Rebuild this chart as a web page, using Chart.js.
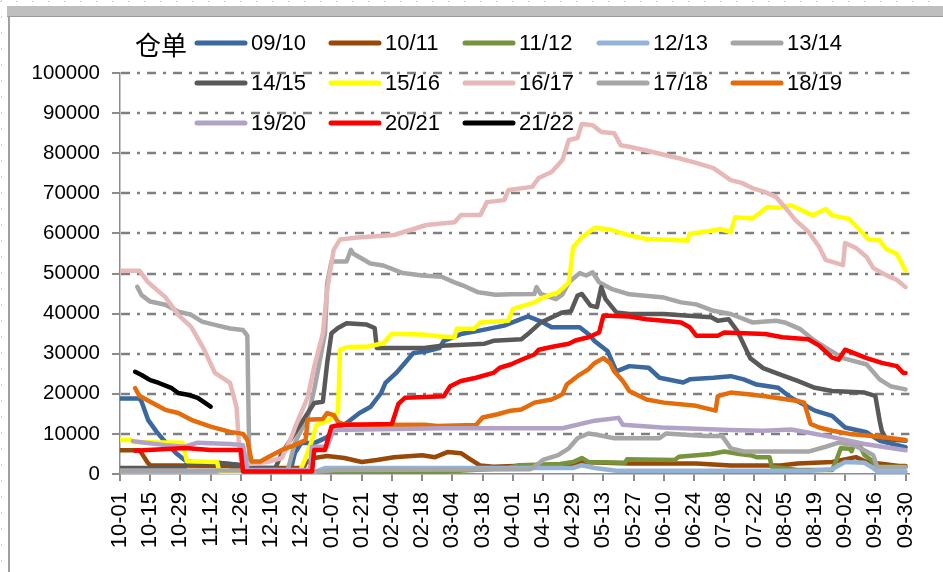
<!DOCTYPE html>
<html>
<head>
<meta charset="utf-8">
<title>仓单</title>
<script src="https://cdn.jsdelivr.net/npm/chart.js@4.4.0/dist/chart.umd.min.js"></script>
<style>
  html, body { margin: 0; padding: 0; background: #fff; }
  #sheet { position: relative; width: 943px; height: 572px; overflow: hidden; background: #fff; }
  .dots-top { position: absolute; left: 0; top: 1px; width: 943px; height: 1px;
    background: repeating-linear-gradient(to right, #cfcfcf 0 2px, transparent 2px 16px); }
  .dots-left { position: absolute; left: 1px; top: 0; width: 1px; height: 572px;
    background: repeating-linear-gradient(to bottom, #cfcfcf 0 2px, transparent 2px 16px); }
  .titlebar { position: absolute; left: 7px; top: 6px; right: 0; height: 10px;
    background: #bfbfbf; border-bottom: 1px solid #9a9a9a; }
  .frame-left { position: absolute; left: 8px; top: 17px; width: 2px; bottom: 0; background: #a0a0a0; }
  #chartBox { position: absolute; left: 0; top: 0; width: 943px; height: 572px; }
</style>
</head>
<body>
<div id="sheet">
  <div class="dots-top"></div>
  <div class="dots-left"></div>
  <div class="titlebar"></div>
  <div class="frame-left"></div>
  <div id="chartBox"><canvas id="receiptChart"></canvas></div>
</div>
<script>
// Warehouse receipts per season, day 0 = 10-01 ... day 364 = 09-30

const LEGEND_TITLE = '仓单';
const DAY_STEP = 14;

const tickLabels = ['10-01', '10-15', '10-29', '11-12', '11-26', '12-10', '12-24',
    '01-07', '01-21', '02-04', '02-18', '03-04', '03-18', '04-01', '04-15', '04-29',
    '05-13', '05-27', '06-10', '06-24', '07-08', '07-22', '08-05', '08-19', '09-02',
    '09-16', '09-30'];

const yTicks = [0, 10000, 20000, 30000, 40000, 50000, 60000, 70000, 80000, 90000, 100000];

const seasonLabels = ['09/10', '10/11', '11/12', '12/13', '13/14', '14/15', '15/16',
    '16/17', '17/18', '18/19', '19/20', '20/21', '21/22'];

const seasonColors = ['#3a689f', '#984807', '#77933c', '#95b3d7', '#a6a6a6', '#595959',
    '#ffff00', '#e6b9b8', '#a6a6a6', '#e46c0a', '#b3a2c7', '#ff0000', '#000000'];

// [day, receipts]
const s0910 = [[0,18800],[9,18800],[10,18000],[13,13500],[17,10500],[21,8000],[26,5200],[30,3500],
    [33,3000],[45,2800],[55,2300],[57,800],[79,800],[81,5200],[84,7700],[90,7700],[96,9200],
    [99,11000],[105,12700],[111,15200],[116,16700],[121,20200],[123,22700],[128,25200],[132,27700],
    [136,30200],[141,30500],[148,31400],[150,33200],[158,34900],[166,35700],[178,37000],[186,38700],
    [189,39300],[192,38700],[196,37800],[200,36600],[213,36600],[217,34900],[220,33100],[226,30600],
    [230,25600],[236,26900],[245,26500],[250,24000],[261,22800],[264,23600],[275,24000],[283,24400],
    [289,23600],[295,22300],[305,21500],[311,19000],[322,15800],[330,14500],[336,11600],[346,10400],
    [352,8300],[364,6700]];

const s1011 = [[0,5900],[9,5900],[10,5200],[13,2700],[14,2200],[50,2000],[56,1500],[85,1500],
    [86,2700],[90,4000],[96,4500],[104,4000],[112,3000],[119,3500],[127,4200],[140,4700],[146,4200],
    [152,5500],[158,5200],[162,3800],[167,2100],[173,1800],[209,2500],[213,3000],[236,2600],
    [267,2600],[283,2100],[306,2100],[314,2600],[330,3000],[341,4200],[346,3000],[361,2000],[364,2000]];

const s1112 = [[0,300],[140,300],[180,1500],[185,2200],[204,2500],[210,3000],[214,4000],[217,3000],
    [234,2800],[235,3700],[257,3500],[259,4300],[274,5000],[280,5600],[287,5000],[292,4700],
    [295,4200],[301,4200],[302,1800],[314,1000],[330,1000],[332,3500],[334,6400],[338,6300],
    [339,5700],[340,7200],[343,6900],[345,4700],[348,3500],[351,1800],[364,1800]];

const s1213 = [[0,0],[80,0],[90,500],[95,1500],[210,1500],[214,2200],[220,1500],[230,800],
    [320,800],[330,1200],[332,1800],[336,3000],[345,2800],[349,1500],[351,600],[364,600]];

const s1314 = [[8,46700],[10,44600],[14,43000],[21,42200],[27,40500],[33,39700],[38,38000],
    [44,37200],[51,36300],[57,35900],[59,34500],[60,1000],[66,600],[77,800],[78,1500],[81,7700],
    [87,14200],[90,21000],[95,35100],[96,47600],[98,53000],[105,53000],[107,55900],[108,55000],
    [116,52500],[122,52000],[131,50100],[140,49500],[149,49200],[155,47800],[159,47000],[166,45300],
    [174,44700],[181,44800],[192,44900],[193,46600],[195,44900],[202,43600],[205,44800],[208,47800],
    [213,50100],[216,49500],[219,50300],[222,47800],[228,46100],[236,44800],[252,44000],[260,42800],
    [267,42300],[275,40700],[283,39900],[293,37800],[304,38200],[308,37800],[315,36200],[321,33600],
    [327,31500],[335,28900],[346,27300],[352,23600],[357,21900],[364,21100]];

const s1415 = [[0,1500],[30,1500],[31,2800],[45,2800],[56,2200],[58,1500],[72,1500],[73,2700],
    [75,5200],[81,10200],[90,17700],[94,18000],[96,27700],[98,35100],[101,36400],[105,37600],
    [114,37300],[118,36400],[119,31400],[141,31400],[149,32000],[169,32500],[173,33200],[186,33600],
    [189,34900],[195,37800],[205,40300],[209,40600],[212,44500],[214,44900],[218,42000],[221,41600],
    [223,46600],[225,43600],[230,40300],[236,39900],[252,39900],[260,39600],[274,39100],[277,38200],
    [282,38600],[286,35700],[290,31200],[292,28900],[298,26400],[306,24800],[314,23200],[322,21500],
    [330,20700],[345,20300],[350,19500],[352,13300],[353,10800],[355,8700],[364,8300]];

const s1516 = [[0,8500],[5,8500],[6,8000],[29,7800],[31,3200],[45,3000],[46,600],[55,300],[56,0],
    [83,0],[84,1500],[86,4000],[89,8500],[91,12200],[97,13500],[100,15000],[101,15500],[102,31000],
    [106,31700],[115,31800],[122,32600],[126,35000],[140,34800],[149,34300],[155,34100],[156,36200],
    [164,36200],[167,37800],[180,38200],[182,41100],[192,42800],[196,44000],[203,45300],[208,47800],
    [210,56600],[214,59000],[220,61400],[227,61000],[236,59500],[244,58600],[263,58200],[264,59900],
    [275,60700],[278,61100],[283,60300],[285,64000],[293,63700],[296,64900],[300,66600],[305,66400],
    [311,67000],[321,64500],[327,66100],[330,64500],[338,63600],[343,60700],[347,58400],[352,58300],
    [355,56100],[360,54900],[364,50700]];

const s1617 = [[0,50700],[9,50700],[13,47800],[21,44100],[27,39700],[33,36700],[39,31000],
    [44,25200],[51,22700],[54,16700],[55,8500],[56,3500],[60,2500],[68,3000],[75,4000],[78,7500],
    [80,10000],[81,11500],[87,19200],[90,26700],[94,35100],[96,45900],[99,55900],[102,58500],
    [110,59000],[127,59600],[142,62100],[155,62800],[158,64600],[167,64600],[170,67800],[178,68300],
    [180,70800],[191,71600],[194,73800],[200,75300],[205,78300],[208,83300],[212,83800],[214,87300],
    [219,87000],[223,85300],[229,85000],[232,82000],[236,81600],[243,80800],[252,79600],[260,78600],
    [267,77600],[275,76300],[283,73300],[288,72600],[293,71300],[299,70300],[304,69100],[308,66600],
    [313,63300],[319,60400],[324,56600],[327,53400],[335,52100],[336,57600],[341,56400],[346,54100],
    [349,51400],[355,49600],[360,48400],[364,46600]];

const s1718 = [[0,900],[56,900],[58,300],[85,300],[100,1000],[190,1200],[192,1800],[196,3500],
    [203,4700],[208,6400],[212,8900],[217,10100],[221,9800],[229,8900],[250,8900],[253,10100],
    [271,9500],[279,9500],[283,6400],[289,5600],[319,5600],[327,6800],[333,7800],[340,7200],
    [346,5600],[349,4700],[351,1700],[364,1700]];

const s1819 = [[7,21400],[9,19500],[14,18000],[21,16000],[27,15200],[33,13500],[42,11800],
    [51,10500],[57,10000],[59,8500],[61,3100],[65,3100],[69,4300],[75,6000],[81,7200],[86,8500],
    [87,13500],[94,13700],[96,15200],[99,14700],[101,13000],[103,12500],[112,12200],[141,12300],
    [147,12000],[165,12200],[168,14100],[175,14900],[181,15800],[186,16100],[192,17800],[200,18600],
    [205,19900],[207,22300],[212,24400],[217,26100],[220,27700],[224,28900],[227,27700],[229,25600],
    [233,23200],[236,20700],[244,18600],[252,17800],[267,17000],[276,15800],[277,19400],[283,20300],
    [291,19900],[299,19400],[314,18200],[317,17800],[320,12500],[324,11600],[330,10800],[338,10000],
    [346,9600],[353,9200],[364,8500]];

const s1920 = [[6,8200],[9,8000],[21,7200],[30,6800],[36,7800],[51,7500],[57,7200],[59,1000],
    [88,1000],[89,6800],[96,6800],[99,11000],[150,11400],[205,11400],[220,13300],[231,14000],
    [233,12300],[251,11600],[283,11000],[298,10800],[311,11100],[318,10400],[330,9200],[345,7500],
    [364,5900]];

const s2021 = [[7,5800],[30,6500],[42,6000],[56,6000],[57,600],[89,600],[90,6000],[95,6000],
    [96,8000],[98,11800],[101,12200],[126,12500],[129,17500],[132,19000],[150,19400],[153,21900],
    [158,23200],[165,24000],[173,25200],[176,26500],[181,27300],[186,28500],[192,29800],[194,31000],
    [201,31800],[208,32500],[211,33300],[217,34100],[222,35300],[224,39500],[236,39300],[244,38600],
    [252,38200],[260,37800],[264,36600],[267,34500],[277,34500],[280,35300],[299,34900],[307,34100],
    [319,33600],[324,32000],[330,29000],[333,28500],[336,31000],[346,28900],[353,27700],[360,26900],
    [363,25200],[364,25200]];

const s2122 = [[7,25500],[10,24700],[14,23400],[18,22700],[24,21400],[27,20200],[32,19700],
    [36,19000],[42,16800]];

const seasonSeries = [s0910, s1011, s1112, s1213, s1314, s1415, s1516, s1617, s1718, s1819,
    s1920, s2021, s2122];

const AXIS_GRAY = '#8c8c8c';
const GRID_GRAY = '#7f7f7f';

// ======================== Plugins ========================

// dash-dot horizontal grid, painted behind what is already on the canvas
const dashDotGrid = {
    id: 'dashDotGrid',
    afterDatasetsDraw(chart) {
        const ctx = chart.ctx;
        const yScale = chart.scales.y;
        const xScale = chart.scales.x;
        const left = xScale.left;
        const right = xScale.right;
        const dash = 9, dotAt = 16, dot = 3, period = 26;
        ctx.save();
        ctx.globalCompositeOperation = 'destination-over';
        ctx.strokeStyle = GRID_GRAY;
        ctx.lineWidth = 2.5;
        ctx.lineCap = 'butt';
        ctx.beginPath();
        yTicks.forEach(value => {
            if (value === 0) return;
            const y = Math.round(yScale.getPixelForValue(value));
            for (let x = left + 1; x < right; x += period) {
                ctx.moveTo(x, y);
                ctx.lineTo(Math.min(x + dash, right), y);
                if (x + dotAt < right) {
                    ctx.moveTo(x + dotAt, y);
                    ctx.lineTo(x + dotAt + dot, y);
                }
            }
        });
        ctx.stroke();
        ctx.restore();
    }
};

// title on the left, then 5 entries per row
const seasonLegend = {
    id: 'seasonLegend',
    afterDraw(chart) {
        const ctx = chart.ctx;
        ctx.save();
        ctx.textBaseline = 'middle';
        ctx.fillStyle = '#000';
        ctx.font = '26px "Noto Sans CJK SC", sans-serif';
        ctx.fillText(LEGEND_TITLE, 135, 45);

        ctx.font = '22px "Liberation Sans", Arial, sans-serif';
        ctx.lineCap = 'round';
        ctx.lineWidth = 5;
        chart.data.datasets.forEach((ds, i) => {
            const x = 197 + (i % 5) * 134;
            const y = 43 + Math.floor(i / 5) * 40;
            ctx.strokeStyle = ds.borderColor;
            ctx.beginPath();
            ctx.moveTo(x, y);
            ctx.lineTo(x + 48, y);
            ctx.stroke();
            ctx.fillText(ds.label, x + 54, y + 1);
        });
        ctx.restore();
    }
};

// ======================== Chart ========================

function createReceiptChart() {
    const ctx = document.getElementById('receiptChart').getContext('2d');

    const datasets = seasonLabels.map((label, i) => ({
        label: label,
        data: seasonSeries[i].map(([day, value]) => ({ x: day, y: value })),
        borderColor: seasonColors[i],
        backgroundColor: seasonColors[i],
        borderWidth: 4.5,
        pointRadius: 0,
        tension: 0,
        borderJoinStyle: 'round',
        borderCapStyle: 'round',
        order: -i   // later seasons on top
    }));

    new Chart(ctx, {
        type: 'line',
        data: { datasets: datasets },
        plugins: [dashDotGrid, seasonLegend],
        options: {
            responsive: true,
            maintainAspectRatio: false,
            animation: false,
            layout: { padding: { top: 73, right: 13, bottom: 0, left: 0 } },
            plugins: {
                legend: { display: false },
                tooltip: { enabled: false }
            },
            scales: {
                x: {
                    type: 'linear',
                    min: 0,
                    max: 365.8,
                    afterBuildTicks: scale => {
                        scale.ticks = tickLabels.map((_, i) => ({ value: i * DAY_STEP }));
                    },
                    afterFit: scale => { scale.height = 98; },
                    ticks: {
                        autoSkip: false,
                        minRotation: 90,
                        maxRotation: 90,
                        padding: 11,
                        color: '#000',
                        font: { family: '"Liberation Sans", Arial, sans-serif', size: 22 },
                        callback: (value, index) => tickLabels[index]
                    },
                    grid: {
                        drawOnChartArea: false,
                        drawTicks: true,
                        tickLength: 7,
                        color: AXIS_GRAY,
                        lineWidth: 2
                    },
                    border: { color: AXIS_GRAY, width: 1.5 }
                },
                y: {
                    min: 0,
                    max: 100000,
                    afterBuildTicks: scale => {
                        scale.ticks = yTicks.map(value => ({ value: value }));
                    },
                    afterFit: scale => { scale.width = 120; },
                    ticks: {
                        padding: 12,
                        color: '#000',
                        font: { family: '"Liberation Sans", Arial, sans-serif', size: 20.5 },
                        callback: value => String(value)
                    },
                    grid: {
                        drawOnChartArea: false,
                        drawTicks: true,
                        tickLength: 8,
                        color: AXIS_GRAY,
                        lineWidth: 2
                    },
                    border: { color: AXIS_GRAY, width: 1.5 }
                }
            }
        }
    });
}

document.addEventListener('DOMContentLoaded', createReceiptChart);
</script>
</body>
</html>
